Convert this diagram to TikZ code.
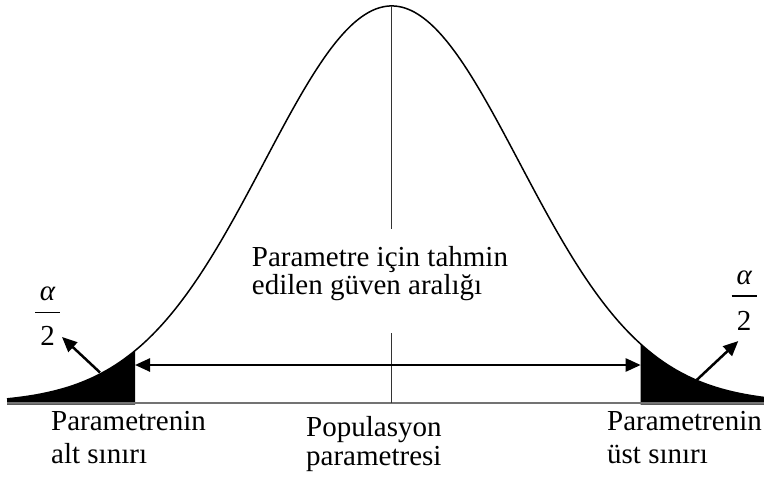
\documentclass[tikz,border=0pt]{standalone}
\usepackage{fontspec}
\setmainfont{Liberation Serif}
\usetikzlibrary{arrows.meta}
\tikzset{
  bellcurve/.style = {line width=1.5pt},
  tailfill/.style = {fill=black},
  xaxis/.style = {black!55, line width=1.5pt},
  centerline/.style = {black!80, line width=1pt},
  fracbar/.style = {line width=1.3pt},
  intarrow/.style = {{Triangle[length=15pt,width=13pt]}-{Triangle[length=15pt,width=13pt]}, line width=2.5pt},
  pointer/.style = {-{Triangle[length=15pt,width=13pt]}, line width=2.5pt},
  lbl/.style = {inner sep=0pt, align=left, font=\fontsize{29}{33}\selectfont},
}
% normal curve, image coordinates
\newcommand{\bell}[1]{403-397*exp(-((#1-391.7)/127.5)^2/2)}

\begin{document}
\begin{tikzpicture}[x=1pt, y=-1pt]
  \useasboundingbox (0,0) rectangle (764,479);

  \coordinate (peak) at (391.7,6);
  \coordinate (ctop) at (391.7,229);
  \coordinate (cbot) at (391.7,333);
  \coordinate (cbase) at (391.7,403);
  \coordinate (lcut) at (135,365);
  \coordinate (rcut) at (640.7,365);
  \coordinate (lfoot) at (100,372.5);
  \coordinate (lhead) at (62,337);
  \coordinate (rfoot) at (696.7,380);
  \coordinate (rhead) at (738.3,341);

  % tails
  \fill[tailfill] plot[domain=7:135, samples=60] (\x,{\bell{\x}}) -- (135,404.5) -- (7,404.5) -- cycle;
  \fill[tailfill] plot[domain=640.7:764, samples=60] (\x,{\bell{\x}}) -- (764,404.5) -- (640.7,404.5) -- cycle;

  \draw[xaxis] (7,403) -- (764,403);
  \draw[bellcurve] plot[domain=7:764, samples=250] (\x,{\bell{\x}});

  \draw[centerline] (peak) -- (ctop);
  \draw[centerline] (cbot) -- (cbase);

  \draw[intarrow] (lcut) -- (rcut);
  \draw[pointer] (lfoot) -- (lhead);
  \draw[pointer] (rfoot) -- (rhead);

  % alpha/2 on both tails
  \node[lbl, anchor=base] (lalpha) at (47.5,300) {\itshape α};
  \draw[fracbar] (35,312.7) -- (60,312.7);
  \node[lbl, anchor=base] (ltwo) at (47.5,345) {2};
  \node[lbl, anchor=base] (ralpha) at (744.2,284) {\itshape α};
  \draw[fracbar] (731.7,296) -- (756.7,296);
  \node[lbl, anchor=base] (rtwo) at (744.2,330.5) {2};

  \node[lbl, anchor=north west, font=\fontsize{29}{28}\selectfont] (interval) at (251.7,246) {Parametre için tahmin\\edilen güven aralığı};
  \node[lbl, anchor=north west] (lower) at (51,411) {Parametrenin\\alt sınırı};
  \node[lbl, anchor=north west, font=\fontsize{29}{29}\selectfont] (param) at (306,416) {Populasyon\\parametresi};
  \node[lbl, anchor=north west] (upper) at (607,411) {Parametrenin\\üst sınırı};
\end{tikzpicture}
\end{document}
